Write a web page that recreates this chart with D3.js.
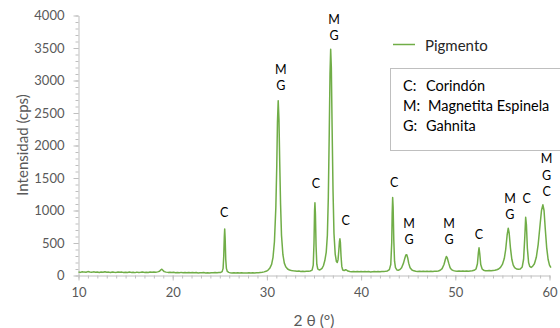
<!DOCTYPE html>
<html>
<head>
<meta charset="utf-8">
<script src="https://cdn.jsdelivr.net/npm/d3@7"></script>
<style>
  html, body { margin: 0; padding: 0; background: #fff; }
  svg { display: block; font-family: Lato, "Open Sans", sans-serif; }
</style>
</head>
<body>
<svg id="chart" width="560" height="328"></svg>
<script>
// X-ray diffraction pattern of the pigment: 2θ (degrees) and intensity (cps)
const angle = [
  10.0, 10.2, 10.4, 10.6, 10.8, 11.0, 11.2, 11.4, 11.6, 11.8,
  12.0, 12.2, 12.4, 12.6, 12.8, 13.0, 13.2, 13.4, 13.6, 13.8,
  14.0, 14.2, 14.4, 14.6, 14.8, 15.0, 15.2, 15.4, 15.6, 15.8,
  16.0, 16.2, 16.4, 16.6, 16.8, 17.0, 17.2, 17.4, 17.6, 17.8,
  18.0, 18.2, 18.4, 18.6, 18.75, 18.85, 18.95, 19.1, 19.3, 19.5,
  19.7, 19.9, 20.1, 20.3, 20.5, 20.7, 20.9, 21.1, 21.3, 21.5,
  21.7, 21.9, 22.1, 22.3, 22.5, 22.7, 22.9, 23.1, 23.3, 23.5,
  23.7, 23.9, 24.1, 24.3, 24.5, 24.7, 24.9, 25.1, 25.25, 25.35,
  25.42, 25.48, 25.52, 25.57, 25.63, 25.7, 25.8, 25.95, 26.1, 26.3,
  26.5, 26.7, 26.9, 27.1, 27.3, 27.5, 27.7, 27.9, 28.1, 28.3,
  28.5, 28.7, 28.9, 29.1, 29.3, 29.5, 29.7, 29.9, 30.1, 30.3,
  30.5, 30.65, 30.8, 30.95, 31.05, 31.12, 31.2, 31.28, 31.36, 31.45,
  31.55, 31.7, 31.85, 32.0, 32.2, 32.4, 32.6, 32.8, 33.0, 33.2,
  33.4, 33.6, 33.8, 34.0, 34.2, 34.4, 34.6, 34.8, 34.92, 35.0,
  35.06, 35.1, 35.15, 35.22, 35.3, 35.4, 35.55, 35.7, 35.85, 36.0,
  36.15, 36.3, 36.42, 36.52, 36.62, 36.7, 36.77, 36.84, 36.92, 37.02,
  37.12, 37.25, 37.38, 37.47, 37.55, 37.63, 37.7, 37.75, 37.8, 37.87,
  37.95, 38.05, 38.2, 38.35, 38.45, 38.6, 38.8, 39.0, 39.2, 39.4,
  39.6, 39.8, 40.0, 40.2, 40.4, 40.6, 40.8, 41.0, 41.2, 41.4,
  41.6, 41.8, 42.0, 42.2, 42.4, 42.6, 42.8, 43.0, 43.15, 43.25,
  43.3, 43.35, 43.4, 43.47, 43.55, 43.65, 43.8, 43.95, 44.1, 44.3,
  44.5, 44.65, 44.75, 44.85, 44.95, 45.05, 45.2, 45.4, 45.6, 45.8,
  46.0, 46.2, 46.4, 46.6, 46.8, 47.0, 47.2, 47.4, 47.6, 47.8,
  48.0, 48.2, 48.4, 48.6, 48.8, 48.95, 49.05, 49.15, 49.3, 49.45,
  49.6, 49.8, 50.0, 50.2, 50.4, 50.6, 50.8, 51.0, 51.2, 51.4,
  51.6, 51.8, 52.0, 52.2, 52.35, 52.45, 52.52, 52.6, 52.7, 52.85,
  53.0, 53.2, 53.4, 53.6, 53.8, 54.0, 54.2, 54.4, 54.6, 54.8,
  55.0, 55.2, 55.35, 55.5, 55.62, 55.72, 55.85, 56.0, 56.15, 56.3,
  56.5, 56.7, 56.9, 57.1, 57.25, 57.38, 57.47, 57.55, 57.65, 57.78,
  57.9, 58.05, 58.2, 58.4, 58.6, 58.8, 59.0, 59.15, 59.3, 59.42,
  59.55, 59.7, 59.85, 60.0, 60.15
];
const counts = [
  55, 48, 58, 52, 50, 60, 53, 49, 56, 51,
  54, 47, 55, 50, 57, 49, 52, 46, 54, 50,
  48, 55, 49, 52, 45, 51, 47, 53, 48, 50,
  44, 52, 47, 50, 54, 48, 51, 46, 53, 49,
  52, 50, 56, 64, 88, 97, 82, 60, 52, 48,
  50, 45, 49, 43, 47, 44, 48, 42, 46, 43,
  47, 41, 45, 42, 46, 40, 44, 41, 45, 40,
  43, 39, 44, 41, 45, 42, 46, 48, 60, 110,
  300, 600, 715, 560, 250, 110, 62, 48, 44, 40,
  43, 39, 42, 38, 41, 37, 40, 38, 42, 39,
  43, 40, 44, 42, 46, 50, 56, 64, 80, 110,
  170, 280, 520, 1050, 1700, 2350, 2690, 2400, 1750, 1100,
  620, 320, 190, 135, 100, 85, 78, 72, 70, 66,
  68, 63, 66, 62, 64, 66, 70, 82, 160, 500,
  1000, 1120, 950, 450, 170, 100, 85, 92, 110, 150,
  230, 360, 620, 1200, 2200, 3100, 3480, 3200, 2300, 1300,
  650, 330, 215, 200, 240, 380, 520, 565, 510, 300,
  140, 85, 76, 88, 85, 68, 62, 58, 62, 57,
  61, 56, 60, 58, 62, 57, 60, 55, 59, 63,
  58, 61, 57, 62, 60, 64, 70, 90, 170, 500,
  950, 1200, 1050, 550, 220, 120, 85, 80, 90, 120,
  190, 270, 315, 320, 270, 190, 120, 85, 72, 66,
  63, 67, 62, 65, 60, 64, 61, 66, 62, 65,
  67, 70, 80, 105, 170, 250, 292, 270, 190, 120,
  90, 75, 70, 66, 70, 65, 68, 64, 69, 66,
  70, 72, 80, 100, 180, 350, 426, 330, 170, 100,
  82, 74, 72, 76, 74, 78, 80, 88, 100, 125,
  170, 260, 400, 620, 728, 650, 430, 250, 160, 120,
  100, 95, 100, 130, 250, 600, 895, 780, 420, 200,
  140, 125, 140, 180, 280, 480, 780, 1000, 1088, 1000,
  720, 430, 250, 160, 120
];

// Phase labels above the reflections: position (2θ, cps of the lowest line) and stacked letters
const labelAngle = [25.46, 31.47, 35.21, 37.12, 38.37, 43.52, 45.08, 49.33, 52.52, 55.8, 57.58, 59.7];
const labelLevel = [965, 2923, 1411, 3692, 846, 1426, 549, 549, 631, 938, 1189, 1292];
const labelText = ["C", "MG", "C", "MG", "C", "C", "MG", "MG", "C", "MG", "C", "MGC"];

// Axis ticks
const xTicks = [10, 20, 30, 40, 50, 60];
const yTicks = [0, 500, 1000, 1500, 2000, 2500, 3000, 3500, 4000];

// Legend entries
const seriesName = "Pigmento";
const phaseKey = ["C:", "M:", "G:"];
const phaseName = ["Corindón", "Magnetita Espinela", "Gahnita"];

const svg = d3.select("#chart");
const x = d3.scaleLinear().domain([10, 60]).range([78.5, 549.5]);
const y = d3.scaleLinear().domain([0, 4000]).range([275.5, 15.5]);

const axisGray = "#bfbfbf";
const textGray = "#595959";

// Minor ticks
svg.append("g")
  .attr("transform", `translate(0,${y(0)})`)
  .call(d3.axisBottom(x).tickValues(d3.range(10, 61, 1)).tickSize(3).tickFormat(""))
  .call(g => g.select(".domain").remove())
  .call(g => g.selectAll("line").attr("stroke", axisGray));
svg.append("g")
  .attr("transform", `translate(${x(10)},0)`)
  .call(d3.axisLeft(y).tickValues(d3.range(0, 4001, 100)).tickSize(3).tickFormat(""))
  .call(g => g.select(".domain").remove())
  .call(g => g.selectAll("line").attr("stroke", axisGray));

// Major ticks with labels
const xAxis = svg.append("g")
  .attr("transform", `translate(0,${y(0)})`)
  .call(d3.axisBottom(x).tickValues(xTicks).tickFormat(d3.format("d"))
    .tickSize(5).tickSizeOuter(0).tickPadding(7));
const yAxis = svg.append("g")
  .attr("transform", `translate(${x(10)},0)`)
  .call(d3.axisLeft(y).tickValues(yTicks).tickFormat(d3.format("d"))
    .tickSize(5).tickSizeOuter(0).tickPadding(9));
[xAxis, yAxis].forEach(g => {
  g.select(".domain").attr("stroke", axisGray);
  g.selectAll("line").attr("stroke", axisGray);
  g.selectAll("text").attr("fill", textGray).style("font-size", "13px").style("font-family", "Lato, sans-serif");
});

// Diffraction profile
const line = d3.line().x(d => x(d[0])).y(d => y(d[1]));
svg.append("path")
  .datum(angle.map((a, i) => [a, counts[i]]))
  .attr("d", line)
  .attr("fill", "none")
  .attr("stroke", "#70ad47")
  .attr("stroke-width", 1.5)
  .attr("stroke-linejoin", "round");

// Phase letters stacked above each reflection
const lineStep = 16.5;
labelText.forEach((t, i) => {
  const letters = t.split("");
  const n = letters.length;
  letters.forEach((ch, j) => {
    svg.append("text")
      .attr("x", x(labelAngle[i]))
      .attr("y", y(labelLevel[i]) - (n - 1 - j) * lineStep)
      .attr("text-anchor", "middle")
      .attr("dominant-baseline", "central")
      .attr("fill", "#000")
      .style("font-size", "12.5px")
      .text(ch);
  });
});

// Axis titles
svg.append("text")
  .attr("x", (x(10) + x(60)) / 2)
  .attr("y", 320)
  .attr("text-anchor", "middle")
  .attr("dominant-baseline", "central")
  .attr("fill", textGray)
  .style("font-size", "15.5px")
  .text("2 θ (°)");
svg.append("text")
  .attr("transform", "translate(22,145) rotate(-90)")
  .attr("text-anchor", "middle")
  .attr("dominant-baseline", "central")
  .attr("fill", textGray)
  .style("font-size", "15px")
  .text("Intensidad (cps)");

// Series legend
svg.append("line")
  .attr("x1", 393).attr("x2", 415)
  .attr("y1", 44.5).attr("y2", 44.5)
  .attr("stroke", "#70ad47").attr("stroke-width", 1.5);
svg.append("text")
  .attr("x", 425).attr("y", 44.5)
  .attr("dominant-baseline", "central")
  .attr("fill", "#262626")
  .style("font-size", "15px")
  .text(seriesName);

// Phase key box
svg.append("rect")
  .attr("x", 390.5).attr("y", 68.5)
  .attr("width", 200).attr("height", 82)
  .attr("fill", "#fff")
  .attr("stroke", axisGray);
phaseKey.forEach((k, i) => {
  const yy = 85 + i * 20;
  svg.append("text")
    .attr("x", 403).attr("y", yy)
    .attr("dominant-baseline", "central")
    .style("font-size", "14.5px")
    .attr("fill", "#000")
    .text(k);
  svg.append("text")
    .attr("x", i === 1 ? 428 : 426).attr("y", yy)
    .attr("dominant-baseline", "central")
    .style("font-size", "14.5px")
    .attr("fill", "#000")
    .text(phaseName[i]);
});
</script>
</body>
</html>
